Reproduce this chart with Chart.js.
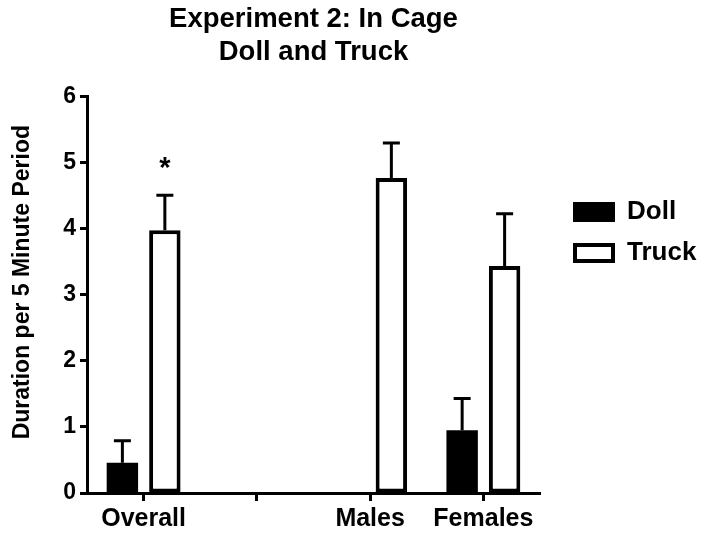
<!DOCTYPE html>
<html>
<head>
<meta charset="utf-8">
<script src="https://cdn.jsdelivr.net/npm/chart.js@4/dist/chart.umd.min.js"></script>
<style>
    body { margin: 0; background: #fff; }
    #wrap { width: 710px; height: 533px; }
</style>
</head>
<body>
<div id="wrap"><canvas id="cageChart" width="710" height="533"></canvas></div>
<script>
// mean duration per 5 minute period, with SEM (drawn upward only)
const groups = ["Overall", "", "Males", "Females"];
const dollMean = [0.46, 0, 0, 0.95];
const dollSem = [0.33, 0, 0, 0.48];
const truckMean = [3.98, 0, 4.77, 3.44];
const truckSem = [0.53, 0, 0.53, 0.79];
const truckSig = ["*", "", "", ""];
const yTicks = [0, 1, 2, 3, 4, 5, 6];

const FONT = "'Liberation Sans', Arial, Helvetica, sans-serif";

// upward error bars + significance star, placed with the y scale
const errorBars = {
    id: "errorBars",
    afterDatasetsDraw(chart) {
        const ctx = chart.ctx;
        const y = chart.scales.y;
        ctx.save();
        ctx.strokeStyle = "#000";
        ctx.lineWidth = 3;
        chart.data.datasets.forEach((ds, di) => {
            let meta = chart.getDatasetMeta(di);
            meta.data.forEach((bar, i) => {
                let err = ds.sem[i];
                if (!err) return;
                let top = y.getPixelForValue(ds.data[i] + err);
                ctx.beginPath();
                ctx.moveTo(bar.x, bar.y);
                ctx.lineTo(bar.x, top);
                ctx.moveTo(bar.x - 8.5, top);
                ctx.lineTo(bar.x + 8.5, top);
                ctx.stroke();
                if (ds.sig && ds.sig[i]) {
                    ctx.fillStyle = "#000";
                    ctx.font = "bold 29px " + FONT;
                    ctx.textAlign = "center";
                    ctx.textBaseline = "middle";
                    ctx.fillText(ds.sig[i], bar.x, top - 26);
                }
            });
        });
        ctx.restore();
    }
};

// legend on the right, boxes filled/outlined like the bars
const sideLegend = {
    id: "sideLegend",
    afterDraw(chart) {
        const ctx = chart.ctx;
        ctx.save();
        chart.data.datasets.forEach((ds, i) => {
            let bx = 573, by = 202 + i * 41;
            ctx.fillStyle = "#000";
            ctx.fillRect(bx, by, 42, 20);
            if (ds.backgroundColor !== "#000") {
                ctx.fillStyle = ds.backgroundColor;
                ctx.fillRect(bx + 4, by + 4, 34, 12);
            }
            ctx.fillStyle = "#000";
            ctx.font = "bold 26px " + FONT;
            ctx.textAlign = "left";
            ctx.textBaseline = "middle";
            ctx.fillText(ds.label, 627, by + 10);
        });
        ctx.restore();
    }
};

let ctx = document.getElementById("cageChart").getContext("2d");
let cageChart = new Chart(ctx, {
    type: "bar",
    data: {
        labels: groups,
        datasets: [{
            label: "Doll",
            data: dollMean,
            sem: dollSem,
            backgroundColor: "#000",
            borderWidth: 0
        }, {
            label: "Truck",
            data: truckMean,
            sem: truckSem,
            sig: truckSig,
            backgroundColor: "#fff",
            borderColor: "#000",
            borderWidth: 4,
            borderSkipped: false
        }]
    },
    options: {
        responsive: false,
        animation: false,
        categoryPercentage: 0.75,
        barPercentage: 0.74,
        layout: { padding: { left: 0, right: 170, top: 0, bottom: 0 } },
        plugins: {
            legend: { display: false },
            tooltip: { enabled: false },
            title: {
                display: true,
                fullSize: false,
                text: ["Experiment 2: In Cage", "Doll and Truck"],
                color: "#000",
                font: { family: FONT, size: 27.5, weight: "bold", lineHeight: 1.18 },
                padding: { top: 3.25, bottom: 28.75 }
            }
        },
        scales: {
            x: {
                grid: {
                    display: true,
                    drawOnChartArea: false,
                    offset: false,
                    tickLength: 8,
                    tickWidth: 3,
                    tickColor: "#000"
                },
                border: { display: true, color: "#000", width: 3 },
                ticks: {
                    color: "#000",
                    padding: 3,
                    font: { family: FONT, size: 25, weight: "bold" }
                },
                afterFit(scale) { scale.height = 40; }
            },
            y: {
                min: 0,
                max: 6,
                afterBuildTicks(scale) { scale.ticks = yTicks.map(v => ({ value: v })); },
                grid: {
                    display: true,
                    drawOnChartArea: false,
                    tickLength: 7,
                    tickWidth: 3,
                    tickColor: "#000"
                },
                border: { display: true, color: "#000", width: 3 },
                ticks: {
                    color: "#000",
                    padding: 4,
                    font: { family: FONT, size: 23, weight: "bold" }
                },
                title: {
                    display: true,
                    // leading spaces nudge the centred title up a little
                    text: "    Duration per 5 Minute Period",
                    color: "#000",
                    font: { family: FONT, size: 23, weight: "bold" },
                    padding: { top: 9, bottom: 0 }
                },
                afterFit(scale) { scale.width = 87; }
            }
        }
    },
    plugins: [errorBars, sideLegend]
});
</script>
</body>
</html>
